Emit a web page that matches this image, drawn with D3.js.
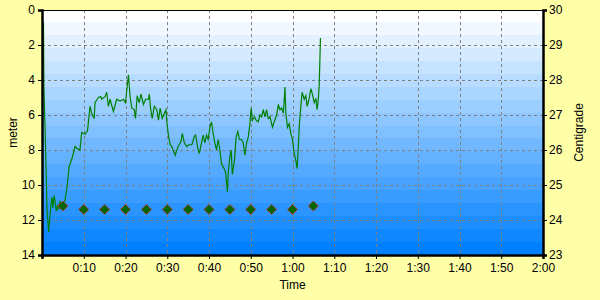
<!DOCTYPE html>
<html>
<head>
<meta charset="utf-8">
<script src="https://cdn.jsdelivr.net/npm/d3@7"></script>
<style>
  body { margin: 0; background: #ffffa8; }
  svg { display: block; font-family: "Liberation Sans", Arial, sans-serif; }
  .axis text { font-size: 12px; fill: #000; }
</style>
</head>
<body>
<div id="chart"></div>
<script>
// depth trace: time in minutes, depth in meters
var depthTime = [0.35, 0.45, 0.7, 0.9, 1.2, 1.6, 1.9, 2.2, 2.4, 2.6, 2.9, 3.2, 3.4, 3.7, 4.0, 4.3, 4.6, 5.0, 5.4,
  5.9, 6.5, 7.3, 7.9, 8.3, 9.1, 9.5, 10.3, 10.9, 11.5, 11.9, 12.5, 12.7, 13.5, 14.1, 14.3, 15.1,
  15.5, 15.9, 16.3, 17.1, 17.9, 18.7, 19.5, 20.0, 20.7, 21.1, 21.5, 22.1, 22.4, 22.8, 23.3, 23.7,
  24.3, 24.8, 25.5, 25.7, 26.0, 26.4, 26.9, 27.5, 27.9, 28.3, 28.8, 29.3, 29.7, 29.9, 30.3, 30.7,
  31.1, 31.4, 31.9, 32.6, 33.3, 33.6, 34.1, 34.7, 35.2, 35.9, 36.5, 36.8, 37.3, 37.7, 38.1, 38.6,
  39.0, 39.4, 39.8, 40.3, 40.6, 41.0, 41.4, 41.8, 42.2, 42.6, 43.0, 43.6, 44.0, 44.4, 44.6, 45.0,
  45.3, 45.6, 46.1, 46.5, 46.9, 47.3, 47.8, 48.2, 48.6, 49.0, 49.4, 49.8, 50.1, 50.4, 50.9, 51.3,
  51.8, 52.2, 52.6, 53.0, 53.4, 53.8, 54.2, 54.6, 55.2, 55.6, 56.2, 56.6, 57.0, 57.4, 57.8, 58.2,
  58.4, 58.8, 59.2, 59.6, 60.0, 60.4, 60.8, 61.1, 61.4, 61.6, 62.0, 62.3, 62.8, 63.2, 63.5, 64.0,
  64.4, 64.7, 65.2, 65.6, 65.9, 66.2, 66.4, 66.7];
var depthMeters = [0.7, 4.3, 6.5, 8.3, 11.4, 12.7, 11.8, 11.0, 10.7, 11.3, 10.6, 11.0, 11.5, 11.2, 11.4, 10.9, 11.3, 11.2, 11.0,
  10.3, 8.95, 8.4, 7.8, 7.9, 8.0, 7.0, 7.1, 6.9, 5.5, 5.9, 6.2, 5.3, 5.0, 4.95, 5.1, 4.95,
  4.7, 5.5, 5.1, 5.8, 5.1, 5.2, 5.1, 5.3, 3.7, 4.95, 5.6, 5.7, 6.2, 4.9, 5.3, 4.8,
  5.4, 5.1, 5.1, 4.8, 5.6, 6.2, 5.5, 5.7, 6.3, 5.6, 6.2, 5.9, 5.7, 6.4, 7.2, 7.7,
  7.8, 8.0, 8.3, 7.8, 7.5, 7.05, 7.6, 7.8, 7.7, 7.7, 7.2, 7.15, 7.9, 8.2, 7.7, 7.15,
  7.6, 7.15, 7.4, 6.6, 6.4, 7.05, 7.6, 8.0, 7.4, 8.0, 8.8, 9.05, 9.3, 10.4, 9.3, 8.4,
  8.0, 9.4, 8.6, 7.25, 6.95, 7.4, 7.4, 7.6, 8.3, 7.6, 7.25, 6.5, 5.6, 6.3, 6.1, 6.3,
  6.4, 6.0, 6.1, 5.7, 6.1, 5.7, 6.2, 6.1, 6.7, 6.4, 6.0, 5.4, 5.7, 5.6, 5.9, 4.4,
  5.9, 6.7, 6.5, 7.05, 7.4, 8.2, 8.6, 9.05, 7.8, 6.7, 5.5, 4.7, 5.1, 4.9, 5.5, 5.05,
  4.5, 4.75, 5.3, 5.05, 5.7, 5.05, 4.3, 1.6];

// temperature samples every 5 minutes
var tempTime = [5, 10, 15, 20, 25, 30, 35, 40, 45, 50, 55, 60, 65];
var tempValues = [24.4, 24.3, 24.3, 24.3, 24.3, 24.3, 24.3, 24.3, 24.3, 24.3, 24.3, 24.3, 24.4];

var timeTicks = [10, 20, 30, 40, 50, 60, 70, 80, 90, 100, 110, 120];
var timeLabels = ["0:10", "0:20", "0:30", "0:40", "0:50", "1:00", "1:10", "1:20", "1:30", "1:40", "1:50", "2:00"];
var depthTicks = [0, 2, 4, 6, 8, 10, 12, 14];
var tempTicks = [23, 24, 25, 26, 27, 28, 29, 30];

var margin = { top: 10, right: 57, bottom: 45, left: 42 },
    width = 600 - margin.left - margin.right,
    height = 300 - margin.top - margin.bottom;

var x = d3.scaleLinear().domain([0, 120]).range([0, width]);
var yDepth = d3.scaleLinear().domain([0, 14]).range([0, height]);
var yTemp = d3.scaleLinear().domain([23, 30]).range([height, 0]);

var svg = d3.select("#chart").append("svg")
    .attr("width", 600)
    .attr("height", 300);

var g = svg.append("g")
    .attr("transform", "translate(" + margin.left + "," + margin.top + ")");

// banded background, white at top to blue at bottom
var bands = 19;
var bandColor = d3.interpolateRgb("#ffffff", "#0080ff");
g.selectAll(".band")
    .data(d3.range(bands))
    .enter().append("rect")
    .attr("x", 0)
    .attr("width", width)
    .attr("y", function (d) { return Math.floor(d * height / bands); })
    .attr("height", function (d) { return Math.ceil(height / bands) + 1; })
    .attr("fill", function (d) { return bandColor(d / (bands - 1)); });

// grid
g.selectAll(".hgrid")
    .data(depthTicks.slice(1, -1))
    .enter().append("line")
    .attr("x1", 0).attr("x2", width)
    .attr("y1", function (d) { return Math.round(yDepth(d)) + 0.5; })
    .attr("y2", function (d) { return Math.round(yDepth(d)) + 0.5; })
    .attr("stroke", "#808080")
    .attr("stroke-dasharray", "3,3");
g.selectAll(".vgrid")
    .data(timeTicks.slice(0, -1))
    .enter().append("line")
    .attr("y1", 0).attr("y2", height)
    .attr("x1", function (d) { return Math.round(x(d)) + 0.5; })
    .attr("x2", function (d) { return Math.round(x(d)) + 0.5; })
    .attr("stroke", "#808080")
    .attr("stroke-dasharray", "3,3");

// depth line
var depthData = depthTime.map(function (t, i) { return { t: t, v: depthMeters[i] }; });
g.append("path")
    .datum(depthData)
    .attr("fill", "none")
    .attr("stroke", "#008000")
    .attr("stroke-width", 1.2)
    .attr("d", d3.line()
        .x(function (d) { return x(d.t); })
        .y(function (d) { return yDepth(d.v); }));

// temperature diamonds
var tempData = tempTime.map(function (t, i) { return { t: t, v: tempValues[i] }; });
g.selectAll(".temp")
    .data(tempData)
    .enter().append("path")
    .attr("transform", function (d) { return "translate(" + x(d.t) + "," + yTemp(d.v) + ")"; })
    .attr("d", "M0,-5L5,0L0,5L-5,0Z")
    .attr("fill", "#006400")
    .attr("stroke", "#a04040")
    .attr("stroke-width", 1);

// frame
g.append("line").attr("x1", 0).attr("x2", width).attr("y1", 0.5).attr("y2", 0.5)
    .attr("stroke", "#000").attr("stroke-width", 1);

// axes
var xAxis = g.append("g")
    .attr("class", "axis")
    .attr("transform", "translate(0," + height + ")")
    .call(d3.axisBottom(x)
        .tickValues(timeTicks)
        .tickFormat(function (d, i) { return timeLabels[i]; })
        .tickSize(4)
        .tickPadding(4));

var leftAxis = g.append("g")
    .attr("class", "axis")
    .call(d3.axisLeft(yDepth)
        .tickValues(depthTicks)
        .tickFormat(d3.format("d"))
        .tickSize(4)
        .tickPadding(3));

var rightAxis = g.append("g")
    .attr("class", "axis")
    .attr("transform", "translate(" + width + ",0)")
    .call(d3.axisRight(yTemp)
        .tickValues(tempTicks)
        .tickFormat(d3.format("d"))
        .tickSize(4)
        .tickPadding(2));

[xAxis, leftAxis, rightAxis].forEach(function (a) {
    a.select(".domain").attr("stroke", "#000").attr("stroke-width", 2.5);
    a.selectAll(".tick line").attr("stroke", "#000");
});

// axis titles
svg.append("text")
    .attr("x", margin.left + width / 2)
    .attr("y", 289)
    .attr("text-anchor", "middle")
    .style("font-size", "12px")
    .text("Time");

svg.append("text")
    .attr("transform", "translate(17," + (margin.top + height / 2) + ") rotate(-90)")
    .attr("text-anchor", "middle")
    .style("font-size", "12px")
    .text("meter");

svg.append("text")
    .attr("transform", "translate(583," + (margin.top + height / 2) + ") rotate(-90)")
    .attr("text-anchor", "middle")
    .style("font-size", "12px")
    .text("Centigrade");
</script>
</body>
</html>
